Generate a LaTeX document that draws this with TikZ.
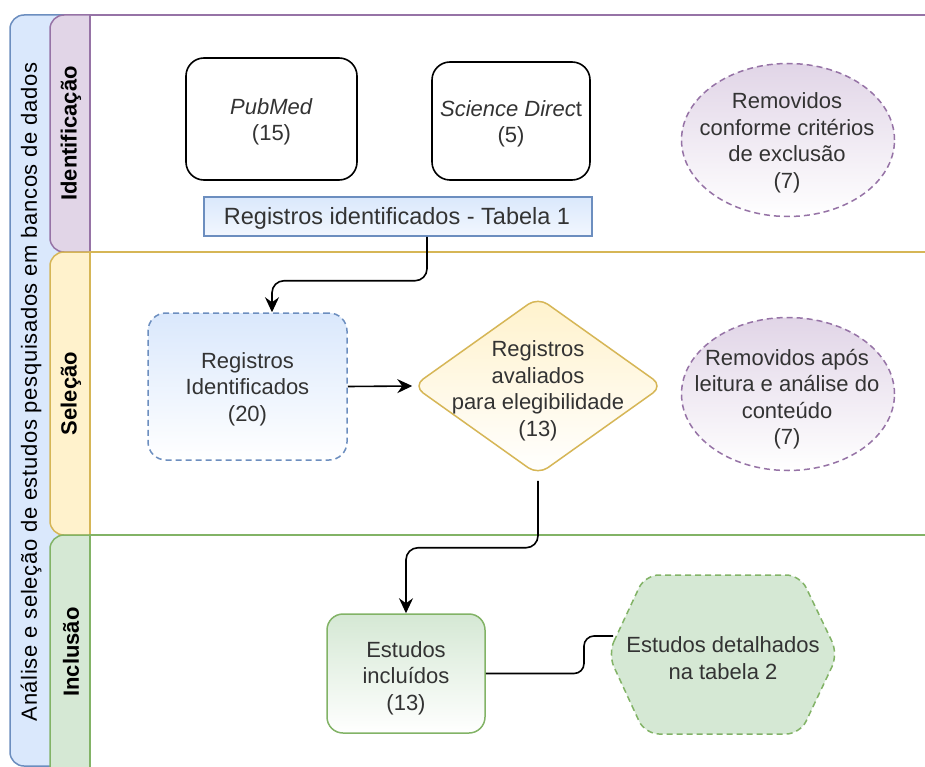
\documentclass[tikz,border=0pt]{standalone}
\usepackage{fontspec}
\setmainfont{Liberation Sans}
\usetikzlibrary{shapes.geometric,arrows.meta,calc}
\definecolor{txtc}{HTML}{333333}
\definecolor{bluef}{HTML}{DAE8FC}
\definecolor{bluel}{HTML}{6C8EBF}
\definecolor{purf}{HTML}{E1D5E7}
\definecolor{purl}{HTML}{9673A6}
\definecolor{yelf}{HTML}{FFF2CC}
\definecolor{yell}{HTML}{D6B656}
\definecolor{grnf}{HTML}{D5E8D4}
\definecolor{grnl}{HTML}{82B366}
\tikzset{
  txt/.style={text=txtc, font=\fontsize{22}{26.5}\selectfont, align=center, inner sep=0pt},
  hdr/.style={text=black, font=\fontsize{22}{26}\selectfont\bfseries, rotate=90, inner sep=0pt},
  lanehdr/.style={line width=1.5pt, rounded corners=14},
  lanebody/.style={line width=1.5pt, fill=white},
  shp/.style={inner sep=0pt, line width=1.5pt},
  srcbox/.style={shp, draw=black, fill=white, line width=1.6pt, rounded corners=18},
  conn/.style={line width=1.6pt, rounded corners=12, -{Stealth[length=15pt,width=14pt,inset=5pt]}},
  plainconn/.style={line width=1.6pt, rounded corners=10},
  dashedlook/.style={dash pattern=on 6pt off 4pt},
}
\begin{document}
\begin{tikzpicture}[x=1pt,y=-1pt]
\useasboundingbox (0,0) rectangle (925,767);
\clip (0,0) rectangle (925,767);
% pool
\path[draw=bluel, fill=bluef, line width=1.5pt, rounded corners=14] (10,15) rectangle (960,766);
\node[txt, text=black, rotate=90, font=\fontsize{22}{26}\selectfont\addfontfeatures{LetterSpace=3}] (pooltitle) at (31,392) {Análise e seleção de estudos pesquisados em bancos de dados};
% lane 1
\path[lanehdr, draw=purl, fill=purf] (50,15) rectangle (960,252);
\path[lanebody, draw=purl] (90,15) rectangle (960,252);
\node[hdr] (h1) at (71,133.5) {Identificação};
% lane 2
\path[lanehdr, draw=yell, fill=yelf] (50,252) rectangle (960,535);
\path[lanebody, draw=yell] (90,252) rectangle (960,535);
\node[hdr] (h2) at (71,393.5) {Seleção};
% lane 3
\path[lanehdr, draw=grnl, fill=grnf] (50,535) rectangle (960,790);
\path[lanebody, draw=grnl] (90,535) rectangle (960,790);
\node[hdr] (h3) at (71,652) {Inclusão};

% identification nodes
\node[srcbox, minimum width=171pt, minimum height=122pt] (pub) at (271.5,119) {};
\node[txt] (pubt) at (271.5,122) {\textit{PubMed}\\(15)};
\node[srcbox, minimum width=158pt, minimum height=118pt] (sci) at (511,121) {};
\node[txt] (scit) at (511,124) {\textit{Science Direc}t\\(5)};
\node[shp, draw=bluel, top color=bluef, bottom color=bluef!35, minimum width=388pt, minimum height=39pt] (tab) at (398,216.5) {};
\node[txt, font=\fontsize{23.5}{27}\selectfont] (tabt) at (397,218.5) {Registros identificados - Tabela 1};
\node[shp, ellipse, draw=purl, dashedlook, top color=purf, bottom color=white, minimum width=213pt, minimum height=153pt] (ex1) at (788,140) {};
\node[txt] (ex1t) at (787,143) {Removidos\\conforme critérios\\de exclusão\\(7)};

% selection nodes
\node[shp, draw=bluel, dashedlook, top color=bluef, bottom color=white, rounded corners=18, minimum width=199pt, minimum height=147pt] (r20) at (247.5,386.5) {};
\node[txt] (r20t) at (247.5,389) {Registros\\Identificados\\(20)};
\node[shp, diamond, draw=yell, top color=yelf, bottom color=white, rounded corners=12, minimum width=250pt, minimum height=178pt] (dia) at (538,386) {};
\node[txt] (diat) at (538,391) {Registros\\avaliados\\para elegibilidade\\(13)};
\node[shp, ellipse, draw=purl, dashedlook, top color=purf, bottom color=white, minimum width=213pt, minimum height=153pt] (ex2) at (788,394) {};
\node[txt] (ex2t) at (787,399) {Removidos após\\leitura e análise do\\conteúdo\\(7)};

% inclusion nodes
\node[shp, draw=grnl, top color=grnf, bottom color=white, rounded corners=16, minimum width=158pt, minimum height=119pt] (est) at (406,673.5) {};
\node[txt] (estt) at (406,678) {Estudos\\incluídos\\(13)};
\path[draw=grnl, fill=grnf, dashedlook, line width=1.5pt, rounded corners=14]
  (608,654) -- (645,575) -- (800,575) -- (838,654) -- (800,734) -- (645,734) -- cycle;
\node[txt] (hex) at (723,658) {Estudos detalhados\\na tabela 2};
\coordinate (hexin) at (613,636);

% connectors
\draw[conn] ($(tab.south)+(29,0)$) -- ++(0,44) -| ($(r20.north)+(24.5,0)$);
\draw[conn] (r20.east) -- (dia.west);
\draw[conn] ($(dia.south)+(0,5)$) -- ++(0,67) -| (est.north);
\draw[plainconn] (est.east) -- (584,673.5) |- (hexin);
\end{tikzpicture}
\end{document}
